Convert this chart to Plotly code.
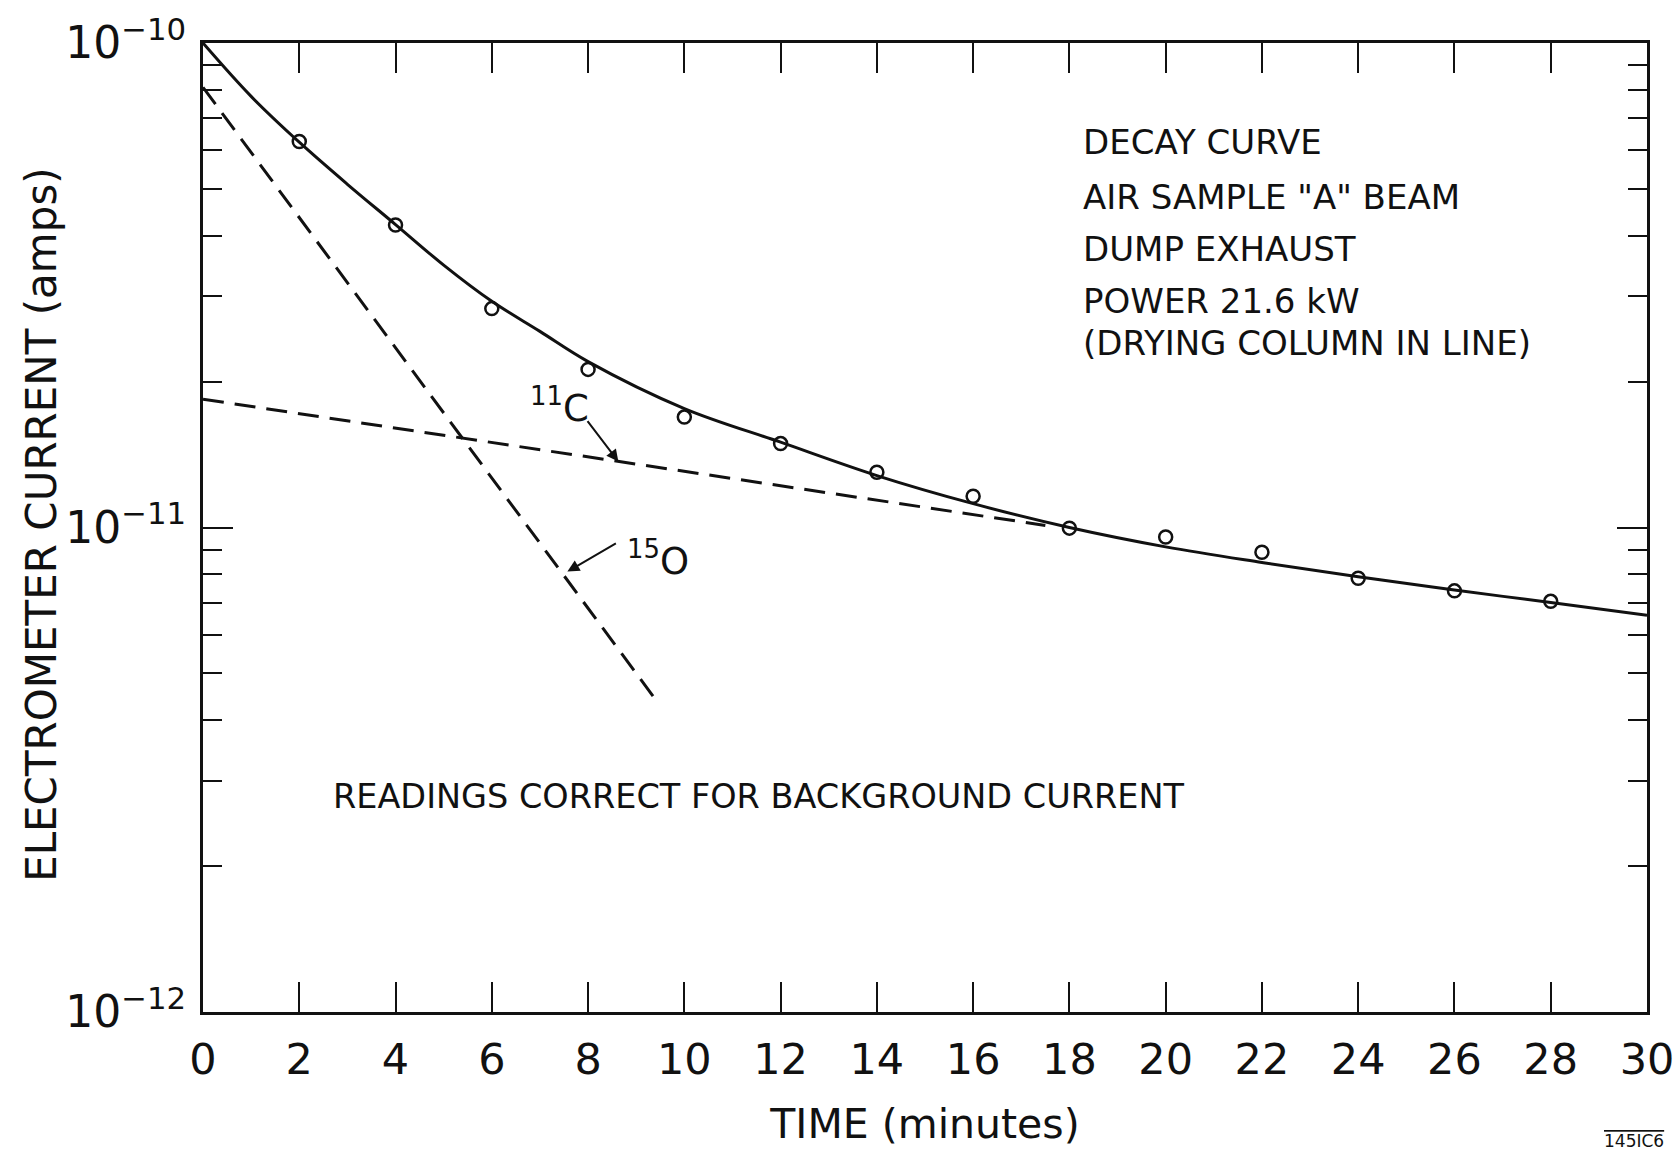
import plotly.graph_objects as go

# ---- data ----
t_points = [2, 4, 6, 8, 10, 12, 14, 16, 18, 20, 22, 24, 26, 28]
i_points = [6.26e-11, 4.21e-11, 2.83e-11, 2.12e-11, 1.69e-11, 1.49e-11, 1.30e-11,
            1.16e-11, 9.97e-12, 9.56e-12, 8.89e-12, 7.86e-12, 7.40e-12, 7.04e-12]

t_curve = [0, 1, 2, 3, 4, 5, 6, 7, 8, 10, 12, 14, 16, 18, 20, 22, 24, 26, 28, 30]
i_curve = [1.0e-10, 7.76e-11, 6.24e-11, 5.11e-11, 4.22e-11, 3.48e-11, 2.93e-11, 2.54e-11,
           2.20e-11, 1.76e-11, 1.50e-11, 1.28e-11, 1.12e-11, 1.00e-11, 9.12e-12,
           8.47e-12, 7.91e-12, 7.43e-12, 7.00e-12, 6.59e-12]

t_c11 = [0, 17.5]
i_c11 = [1.84e-11, 1.01e-11]

t_o15 = [0, 9.45]
i_o15 = [8.1e-11, 4.35e-12]

x_ticks = list(range(0, 31, 2))
y_major = [1e-12, 1e-11, 1e-10]
y_major_text = ["10<sup>\u221212</sup>", "10<sup>\u221211</sup>", "10<sup>\u221210</sup>"]
y_minor = [m * 10.0 ** e for e in (-12, -11) for m in range(2, 10)]

info_lines = ["DECAY CURVE", 'AIR SAMPLE "A" BEAM', "DUMP EXHAUST", "POWER 21.6 kW",
              "(DRYING COLUMN IN LINE)"]

FONT = "DejaVu Sans, sans-serif"
BLACK = "#111111"

fig = go.Figure()
fig.add_trace(go.Scatter(x=t_o15, y=i_o15, mode="lines",
                         line=dict(color=BLACK, width=3, dash="21px,11px"), showlegend=False))
fig.add_trace(go.Scatter(x=t_c11, y=i_c11, mode="lines",
                         line=dict(color=BLACK, width=3, dash="21px,11px"), showlegend=False))
fig.add_trace(go.Scatter(x=t_curve, y=i_curve, mode="lines", line_shape="spline",
                         line=dict(color=BLACK, width=3), showlegend=False))
fig.add_trace(go.Scatter(x=t_points, y=i_points, mode="markers",
                         marker=dict(symbol="circle-open", size=13, color=BLACK,
                                     line=dict(width=2.5, color=BLACK)),
                         showlegend=False))

# info block
info_y = [-10.204, -10.318, -10.425, -10.532, -10.620]
for txt, yy in zip(info_lines, info_y):
    fig.add_annotation(x=18.25, y=yy, text=txt, showarrow=False, xanchor="left",
                       yanchor="middle", font=dict(family=FONT, size=34, color=BLACK))

fig.add_annotation(x=2.66, y=-11.555, text="READINGS CORRECT FOR BACKGROUND CURRENT",
                   showarrow=False, xanchor="left", yanchor="middle",
                   font=dict(family=FONT, size=33.5, color=BLACK))

# isotope labels
fig.add_annotation(x=7.4, y=-10.748, text="<sup>11</sup>C", showarrow=False,
                   font=dict(family=FONT, size=37, color=BLACK))
fig.add_annotation(x=8.63, y=-10.864, text="", showarrow=True, arrowhead=2, arrowsize=1.2,
                   arrowwidth=2, arrowcolor=BLACK, ax=-32, ay=-42)
fig.add_annotation(x=9.45, y=-11.065, text="<sup>15</sup>O", showarrow=False,
                   font=dict(family=FONT, size=37, color=BLACK))
fig.add_annotation(x=7.57, y=-11.091, text="", showarrow=True, arrowhead=2, arrowsize=1.2,
                   arrowwidth=2, arrowcolor=BLACK, ax=50, ay=-29)

# y-axis title (placed as rotated text to match the reference position)
fig.add_annotation(x=-0.112, y=0.503, xref="paper", yref="paper", xanchor="center",
                   yanchor="middle", textangle=-90, showarrow=False,
                   text="ELECTROMETER CURRENT (amps)",
                   font=dict(family=FONT, size=42, color=BLACK))

# drawing number (with overline)
fig.add_annotation(x=0.991, y=-0.133, xref="paper", yref="paper", xanchor="center",
                   yanchor="middle",
                   text='<span style="text-decoration:overline">145IC6</span>',
                   showarrow=False, font=dict(family=FONT, size=17, color=BLACK))

fig.update_layout(
    width=1678, height=1150,
    margin=dict(l=203, r=31, t=43, b=138),
    paper_bgcolor="white", plot_bgcolor="white",
    font=dict(family=FONT, color=BLACK),
    showlegend=False,
)
fig.update_xaxes(
    range=[0, 30], tickmode="array", tickvals=x_ticks, ticks="inside", ticklen=30,
    tickwidth=2, tickcolor=BLACK, showline=True, linewidth=3, linecolor=BLACK,
    mirror="ticks", showgrid=False, zeroline=False, automargin=False,
    tickfont=dict(family=FONT, size=43, color=BLACK), ticklabelstandoff=7,
    title=dict(text="TIME (minutes)", font=dict(family=FONT, size=41, color=BLACK),
               standoff=27),
)
fig.update_yaxes(
    type="log", range=[-12, -10], tickmode="array", tickvals=y_major, ticktext=y_major_text,
    ticks="inside", ticklen=30, tickwidth=2, tickcolor=BLACK, showline=True, linewidth=3,
    linecolor=BLACK, mirror="ticks", showgrid=False, zeroline=False, automargin=False,
    tickfont=dict(family=FONT, size=44, color=BLACK), ticklabelstandoff=5,
    minor=dict(tickmode="array", tickvals=y_minor, ticks="inside", ticklen=19,
               tickwidth=2, tickcolor=BLACK, showgrid=False),
)

fig.write_html("out.html")
